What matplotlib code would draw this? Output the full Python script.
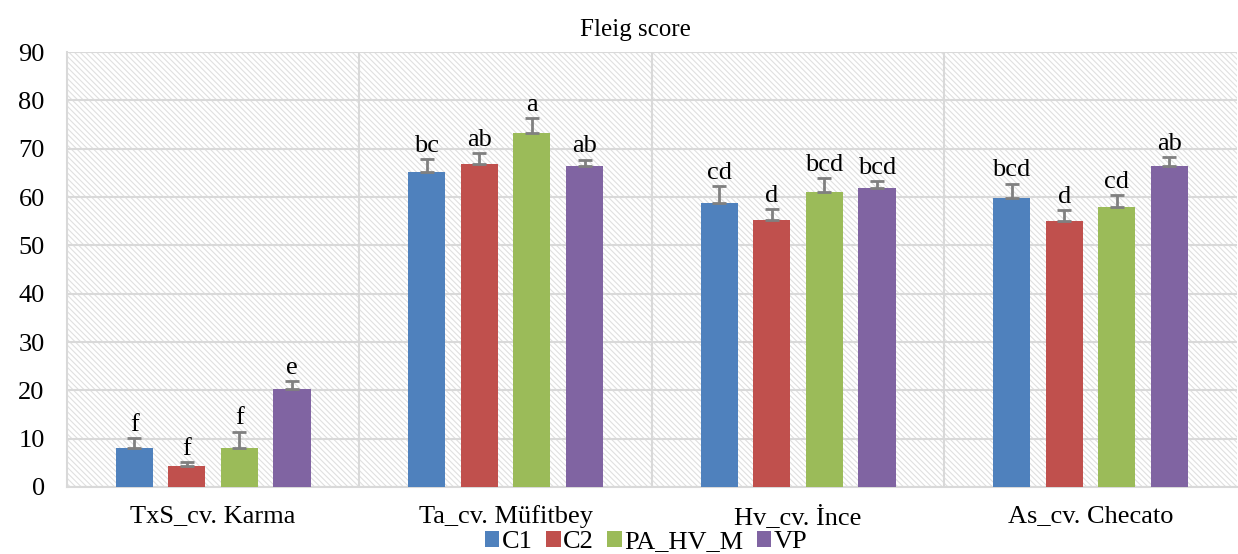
import numpy as np
import matplotlib
matplotlib.use('Agg')
import matplotlib.pyplot as plt
from matplotlib.patches import Rectangle

plt.rcParams['font.family'] = ['Liberation Serif', 'DejaVu Serif']
plt.rcParams['hatch.linewidth'] = 0.8

categories = ['TxS_cv. Karma', 'Ta_cv. Müfitbey', 'Hv_cv. İnce', 'As_cv. Checato']
series = ['C1', 'C2', 'PA_HV_M', 'VP']
colors = ['#4F81BD', '#C0504D', '#9BBB59', '#8064A2']

c1 = [8.0, 65.2, 58.7, 59.8]
c2 = [4.3, 66.9, 55.2, 55.1]
pa = [8.0, 73.2, 61.1, 58.0]
vp = [20.3, 66.4, 61.8, 66.5]

c1_err = [2.1, 2.6, 3.5, 3.0]
c2_err = [0.8, 2.2, 2.3, 2.2]
pa_err = [3.4, 3.1, 2.8, 2.4]
vp_err = [1.6, 1.3, 1.5, 1.8]

c1_lab = ['f', 'bc', 'cd', 'bcd']
c2_lab = ['f', 'ab', 'd', 'd']
pa_lab = ['f', 'a', 'bcd', 'cd']
vp_lab = ['e', 'ab', 'bcd', 'ab']

values = [c1, c2, pa, vp]
errors = [c1_err, c2_err, pa_err, vp_err]
labels = [c1_lab, c2_lab, pa_lab, vp_lab]

fig = plt.figure(figsize=(12.38, 5.54), dpi=100)
ax = fig.add_axes([0.054, 0.121, 0.945, 0.785])

# hatched background
ax.add_patch(Rectangle((0, 0), 1, 1, transform=ax.transAxes, facecolor='white',
                       edgecolor='#e0e0e0', hatch='\\\\\\\\\\\\', linewidth=0, zorder=0))

x = np.arange(len(categories))
width = 0.127
step = 0.18
for i in range(4):
    pos = x + (i - 1.5) * step
    ax.bar(pos, values[i], width, color=colors[i], label=series[i], zorder=3,
           edgecolor='none')
    ax.errorbar(pos, values[i], yerr=[np.zeros(4), errors[i]], fmt='none',
                ecolor='#808080', elinewidth=2, capsize=5, capthick=2, zorder=4)
    for j in range(4):
        ax.text(pos[j], values[i][j] + errors[i][j] + 0.5, labels[i][j],
                ha='center', va='bottom', fontsize=19, zorder=5)

ax.set_xlim(-0.5, 3.5)
ax.set_ylim(0, 90)
ax.set_yticks(range(0, 91, 10))
ax.set_xticks(x)
ax.set_xticklabels(categories)
ax.set_xticks([0.5, 1.5, 2.5], minor=True)
ax.tick_params(axis='both', which='both', length=0, labelsize=19)
ax.tick_params(axis='x', pad=13)
ax.tick_params(axis='y', pad=16)
ax.grid(axis='y', color='#d9d9d9', linewidth=1.5, zorder=1)
ax.grid(axis='x', which='minor', color='#d9d9d9', linewidth=1.5, zorder=1)
ax.set_axisbelow(True)
for s in ['top', 'right']:
    ax.spines[s].set_visible(False)
for s in ['left', 'bottom']:
    ax.spines[s].set_color('#d9d9d9')
    ax.spines[s].set_linewidth(1.5)

fig.text(0.513, 0.945, 'Fleig score', fontsize=18, ha='center', va='center')

fig.legend(loc='center', bbox_to_anchor=(0.522, 0.022), ncol=4, frameon=False,
           fontsize=19, handlelength=0.55, handleheight=0.55, handletextpad=0.1,
           columnspacing=0.5, borderaxespad=0, borderpad=0)

plt.savefig('out.png', dpi=100)
